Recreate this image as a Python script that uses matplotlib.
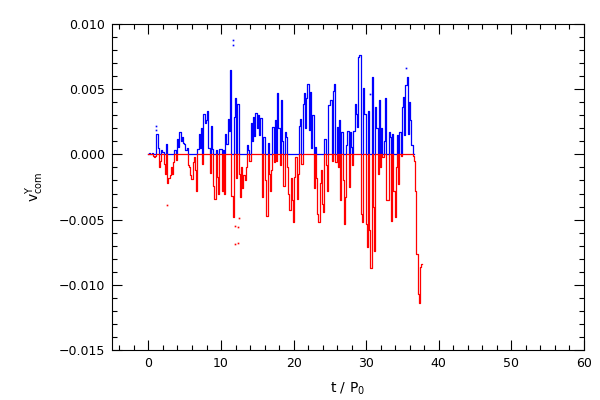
import numpy as np
import matplotlib
matplotlib.use("Agg")
import matplotlib.pyplot as plt
from matplotlib.ticker import MultipleLocator

# v^Y_com samples (units of 1e-3), 6 samples per P0, starting at t = 0
dt = 1.0 / 6.0
vcom_milli = [
    0.0, 0.1, 0.0, 0.1, -0.1, -0.2,
    -0.1, 1.6, 0.5, -1.0, -0.5, 0.3,
    0.2, -0.7, -1.5, 0.8, -2.2, -1.8,
    -1.6, -1.0, -1.5, -0.6, 0.3, -0.4,
    1.2, 0.6, 1.7, 1.0, 1.3, 0.9,
    0.8, 0.3, 0.5, -0.8, -1.0, -1.6,
    -1.9, -0.6, -0.2, -1.2, -2.8, 0.4,
    1.6, 0.5, 2.0, -0.7, 3.1, 2.4,
    2.6, 3.3, 0.5, -1.4, 2.2, 0.4,
    -2.4, -3.4, 0.3, -1.7, -3.0, 0.4,
    0.4, -2.8, 0.3, -3.0, 1.6, 0.8,
    2.7, 1.8, 6.5, -3.2, -4.8, 2.9,
    4.3, -1.8, 3.9, -1.5, -3.3, -1.0,
    -2.6, -1.6, -2.0, -1.0, 0.7, 0.3,
    -0.5, 2.4, 1.0, 2.9, 1.4, 3.2,
    2.0, 3.0, 1.5, 2.8, -3.3, 1.3,
    1.3, -2.0, -4.7, 0.9, -1.5, -2.8,
    -1.2, 2.1, -0.6, 2.6, -0.5, 4.7,
    2.0, -0.8, 4.2, 1.0, -2.4, 1.7,
    1.3, -1.0, -3.0, -4.3, -1.8, -3.5,
    -5.2, -1.7, -0.2, -3.4, -1.5, 2.2,
    2.7, -0.7, 3.9, 4.7, 2.0, 4.3,
    5.4, 1.9, 4.8, 0.5, 3.0, -2.6,
    0.6, -1.8, -4.6, -5.2, -2.2, -1.2,
    -3.8, -4.4, 1.2, -0.8, -2.8, 3.8,
    3.8, 4.2, -0.5, 4.9, 5.4, -0.6,
    2.1, -1.0, 2.6, -3.5, 1.7, -2.0,
    -5.3, -3.3, 0.7, 1.8, -2.5, 1.7,
    0.6, -0.8, 1.8, 3.9, 3.1, 2.1,
    7.5, 7.6, -4.6, -5.2, 5.1, 3.1,
    -5.3, -7.1, 3.3, -5.8, -8.7, 5.9,
    -4.0, -7.4, 3.6, 2.0, -1.5, 4.2,
    -1.0, 2.0, -0.2, 1.0, 4.3, -3.5,
    -3.5, 1.7, 1.3, -5.1, 1.6, -2.8,
    -4.8, -1.0, 1.5, -2.3, 1.7, -0.1,
    3.6, 4.4, 1.5, 5.3, 5.9, 1.6,
    4.0, 2.6, 0.7, -0.1, -0.5, -2.8,
    -7.6, -10.7, -11.4, -8.6, -8.4,
]

# isolated points
dot_t = [1.05, 1.1, 2.6, 11.6, 11.6, 11.9, 11.9, 12.4, 12.4, 12.45, 30.6, 35.45]
dot_v = [2.2, 1.9, -3.9, 8.4, 8.8, -5.5, -6.9, -5.6, -6.8, -4.9, 4.6, 6.6]

v = np.array(vcom_milli) * 1e-3
t = np.arange(len(v)) * dt
dt_arr = np.array(dot_t)
dv_arr = np.array(dot_v) * 1e-3

# positive part in blue, negative part in red
pos = np.where(v > 0, v, 0.0)
neg = np.where(v < 0, v, 0.0)
# no blue line along zero after the last positive sample
last_pos = np.nonzero(v > 0)[0][-1]
pos[last_pos + 2:] = np.nan

fig = plt.figure(figsize=(6, 4), dpi=100)
ax = fig.add_axes([0.187, 0.125, 0.786, 0.815])

ax.plot(t, pos, color='blue', lw=0.9, drawstyle='steps-mid')
ax.plot(t, neg, color='red', lw=0.9, drawstyle='steps-mid')
ax.plot(dt_arr[dv_arr > 0], dv_arr[dv_arr > 0], 's', color='blue', ms=1.2, mew=0)
ax.plot(dt_arr[dv_arr < 0], dv_arr[dv_arr < 0], 's', color='red', ms=1.2, mew=0)

ax.set_xlim(-5, 60)
ax.set_ylim(-0.015, 0.010)
ax.xaxis.set_major_locator(MultipleLocator(10))
ax.xaxis.set_minor_locator(MultipleLocator(2))
ax.yaxis.set_major_locator(MultipleLocator(0.005))
ax.yaxis.set_minor_locator(MultipleLocator(0.001))
ax.yaxis.set_major_formatter(plt.FuncFormatter(lambda y, p: f"{y:.3f}".replace('-', '\u2212')))

ax.tick_params(which='both', direction='in', top=True, right=True, width=0.8, labelsize=9)
ax.tick_params(which='major', length=7, pad=5)
ax.tick_params(which='minor', length=3.5)
for s in ax.spines.values():
    s.set_linewidth(0.8)

ax.set_xlabel(r'$\mathrm{t\ /\ P_0}$', fontsize=10)
ax.set_ylabel(r'$\mathrm{v^Y_{com}}$', fontsize=10)
ax.xaxis.set_label_coords(0.5, -0.095)
ax.yaxis.set_label_coords(-0.14, 0.5)

fig.savefig('out.png', dpi=100)
